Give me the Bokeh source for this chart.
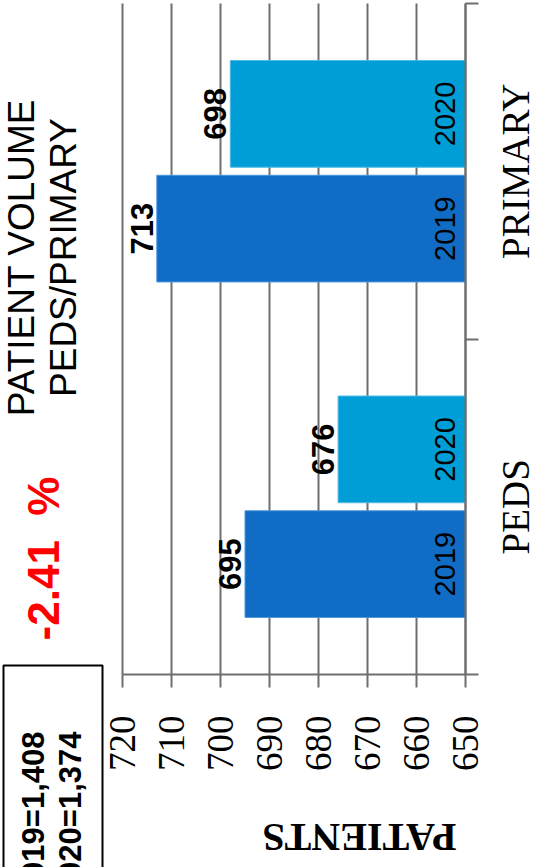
import math

from bokeh.core.properties import value
from bokeh.embed import file_html
from bokeh.models import BoxAnnotation, ColumnDataSource, FixedTicker, Label, Range1d
from bokeh.plotting import figure
from bokeh.resources import INLINE

# ---- data -------------------------------------------------------------
categories = ["PEDS", "PRIMARY"]
years = ["2019", "2020"]
patients_2019 = [695, 713]
patients_2020 = [676, 698]
value_ticks = [650, 660, 670, 680, 690, 700, 710, 720]
axis_title = "PATIENTS"
chart_title = ["PATIENT VOLUME", "PEDS/PRIMARY"]

# ---- page geometry (pixels) ------------------------------------------
W, H = 537, 867
AREA_LEFT, AREA_RIGHT, AREA_TOP, AREA_BOTTOM = 122, 465, 3, 674

# ---- styling ----------------------------------------------------------
BAR_COLORS = {"2019": "#106CC4", "2020": "#009ED6"}
BAR_EDGES = {"2019": "#4C98DE", "2020": "#52B8E6"}
GRID = "#6E6E6E"
SANS = "Liberation Sans"
SERIF = "Liberation Serif"
BAR_HEIGHT = 0.318   # fraction of one category band
BAR_SHIFT = 0.171    # distance of each bar from the band centre
UP = math.pi / 2     # text reading bottom-to-top

series = {"2019": patients_2019, "2020": patients_2020}
shifts = {"2019": -BAR_SHIFT, "2020": BAR_SHIFT}
n = len(categories)
centres = [i + 0.5 for i in range(n)]
vmin, vmax = min(value_ticks), max(value_ticks)

# the frame fills the whole page; the value scale runs right-to-left and
# the axes are pinned inside it so the surrounding texts can share it
px_per_unit = (AREA_RIGHT - AREA_LEFT) / (vmax - vmin)
px_per_band = (AREA_BOTTOM - AREA_TOP) / n
x_range = Range1d(vmax + AREA_LEFT / px_per_unit, vmin - (W - AREA_RIGHT) / px_per_unit)
y_range = Range1d(-(H - AREA_BOTTOM) / px_per_band, n + AREA_TOP / px_per_band)

p = figure(
    width=W, height=H, x_range=x_range, y_range=y_range,
    y_axis_location="right",
    output_backend="svg", toolbar_location=None, min_border=0,
)
p.background_fill_color = "white"
p.border_fill_color = "white"
p.outline_line_color = None

# value axis
xa = p.xaxis[0]
xa.fixed_location = 0
xa.bounds = (vmin, vmax)
xa.ticker = FixedTicker(ticks=value_ticks, minor_ticks=[])
xa.major_label_orientation = UP
xa.major_label_text_font = SERIF
xa.major_label_text_font_size = "37px"
xa.major_label_text_color = "black"
xa.major_label_standoff = 28
xa.major_tick_in = 0
xa.major_tick_out = 13
xa.major_tick_line_color = GRID
xa.major_tick_line_width = 2
xa.axis_line_color = GRID
xa.axis_line_width = 2

p.xgrid.grid_line_color = GRID
p.xgrid.grid_line_width = 2
p.xgrid.cross_bounds = (0, n)
p.ygrid.visible = False

# category axis: only the line and the band-edge ticks
ya = p.yaxis[0]
ya.fixed_location = vmin
ya.bounds = (0, n)
ya.ticker = FixedTicker(ticks=[], minor_ticks=list(range(n + 1)))
ya.major_tick_out = 0
ya.major_tick_in = 0
ya.minor_tick_in = 0
ya.minor_tick_out = 13
ya.minor_tick_line_color = GRID
ya.minor_tick_line_width = 2
ya.axis_line_color = GRID
ya.axis_line_width = 2

# category names beside the axis
cat_src = ColumnDataSource(dict(x=[vmin] * n, y=centres, name=categories))
p.text(x="x", y="y", text="name", source=cat_src, angle=UP, x_offset=50,
       text_align="center", text_baseline="middle",
       text_font=value(SERIF), text_font_size="39px", text_color="black")

# bars with their value and year labels
for year in years:
    vals = series[year]
    src = ColumnDataSource(dict(
        y=[c + shifts[year] for c in centres],
        v=vals,
        base=[vmin] * len(vals),
        value_text=[str(v) for v in vals],
        year_text=[year] * len(vals),
    ))
    p.hbar(y="y", left="base", right="v", height=BAR_HEIGHT, source=src,
           fill_color=BAR_COLORS[year], line_color=BAR_EDGES[year], line_width=1)
    p.text(x="v", y="y", text="value_text", source=src, angle=UP,
           x_offset=-15, text_align="center", text_baseline="middle",
           text_font=value(SANS), text_font_style="bold",
           text_font_size="31px", text_color="black")
    p.text(x="base", y="y", text="year_text", source=src, angle=UP,
           x_offset=-21, text_align="center", text_baseline="middle",
           text_font=value(SANS), text_font_size="29px", text_color="black")

# axis title, set upside down
p.add_layout(Label(x=359, y=837, x_units="canvas", y_units="canvas",
                   text=axis_title, angle=math.pi, text_align="center",
                   text_baseline="middle", text_font=SERIF,
                   text_font_style="bold", text_font_size="40px",
                   text_color="black"))

# chart title, two lines reading upwards
for text, cx in zip(chart_title, [21, 63]):
    p.add_layout(Label(x=cx, y=257, x_units="canvas", y_units="canvas",
                       text=text, angle=UP, text_align="center",
                       text_baseline="middle", text_font=SANS,
                       text_font_size="37px", text_color="black"))

# overall change between the two years
total_2019 = sum(patients_2019)
total_2020 = sum(patients_2020)
change = (total_2020 - total_2019) / total_2019 * 100
p.add_layout(Label(x=43, y=558, x_units="canvas", y_units="canvas",
                   text=f"{change:.2f} \u00a0%", angle=UP, text_align="center",
                   text_baseline="middle", text_font=SANS,
                   text_font_style="bold", text_font_size="44px",
                   text_color="#FF0000"))

# totals box
p.add_layout(BoxAnnotation(left=3, right=102, top=665, bottom=900,
                           left_units="canvas", right_units="canvas",
                           top_units="canvas", bottom_units="canvas",
                           fill_color=None, line_color="black",
                           line_alpha=1.0, line_width=2))
for text, cx in zip([f"{years[0]}={total_2019:,}", f"{years[1]}={total_2020:,}"], [33, 70]):
    p.add_layout(Label(x=cx, y=731, x_units="canvas", y_units="canvas",
                       text=text, angle=UP, text_align="right",
                       text_baseline="middle", text_font=SANS,
                       text_font_style="bold", text_font_size="31px",
                       text_color="black"))

open("out.html", "w").write(file_html(p, INLINE))
